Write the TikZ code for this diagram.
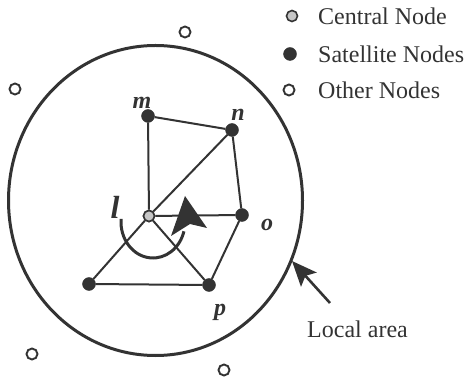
\documentclass[tikz,border=0pt]{standalone}
\usepackage{fontspec}
\setmainfont{Liberation Serif}
\usetikzlibrary{arrows.meta}
\definecolor{ink}{gray}{0.2}
\begin{document}
\begin{tikzpicture}[x=1pt,y=1pt,
  sat/.style={circle,fill=ink,draw=ink,inner sep=0pt,minimum size=13pt},
  cen/.style={circle,fill=gray!45,draw=ink,line width=1.6pt,inner sep=0pt,minimum size=11pt},
  oth/.style={circle,fill=white,draw=ink,line width=1.9pt,inner sep=0pt,minimum size=11pt},
  edge/.style={draw=ink,line width=2pt},
  lbl/.style={font=\fontsize{24}{26}\selectfont\itshape\bfseries,text=ink,inner sep=0pt},
  legtxt/.style={font=\fontsize{24}{26}\selectfont,text=ink,anchor=west,inner sep=0pt}]
\useasboundingbox (0,0) rectangle (465,380);
% local area
\draw[ink,line width=3pt] (155.5,179.5) ellipse [x radius=147,y radius=155];
% nodes
\node[sat] (m) at (148,264) {};
\node[sat] (n) at (232,250) {};
\node[sat] (o) at (242,165) {};
\node[sat] (q) at (89,96) {};
\node[sat] (p) at (209,95) {};
\node[cen] (l) at (149,164) {};
% edges
\path[edge] (m) -- (n);
\path[edge] (m) -- (l);
\path[edge] (n) -- (l);
\path[edge] (n) -- (o);
\path[edge] (l) -- (o);
\path[edge] (o) -- (p);
\path[edge] (l) -- (p);
\path[edge] (l) -- (q);
\path[edge] (q) -- (p);
% central node drawn again on top
\node[cen] at (l) {};
% labels
\node[lbl] (lm) at (142,277) {m};
\node[lbl] (ln) at (238,265) {n};
\node[lbl] (lo) at (267,155) {o};
\node[lbl] (lp) at (220,68) {p};
\node[lbl,font=\fontsize{32}{34}\selectfont\itshape\bfseries] (ll) at (115,173) {l};
% curved arrow around l
\draw[ink,line width=3pt] (153,158) ++(175:32 and 36) arc[start angle=175,end angle=345,x radius=32,y radius=36];
\fill[ink] (185,184) -- (207,152) -- (190,156) -- (171,144) -- cycle;
% other nodes
\node[oth] (o1) at (185,348) {};
\node[oth] (o2) at (15,291) {};
\node[oth] (o3) at (32,26) {};
\node[oth] (o4) at (224,10) {};
% legend
\node[cen] (kc) at (292,364) {};
\node[sat] (ks) at (290,326) {};
\node[oth] (ko) at (289,290) {};
\node[legtxt] (tc) at (318,364) {Central Node};
\node[legtxt] (ts) at (318,326) {Satellite Nodes};
\node[legtxt] (to) at (318,290) {Other Nodes};
% local area label and arrow
\node[legtxt] (tla) at (307,51) {Local area};
\coordinate (tail) at (330,77);
\coordinate (tip) at (292,119);
\draw[ink,line width=2.6pt,-{Stealth[length=25pt,width=21pt,inset=5pt]}] (tail) -- (tip);
\end{tikzpicture}
\end{document}
